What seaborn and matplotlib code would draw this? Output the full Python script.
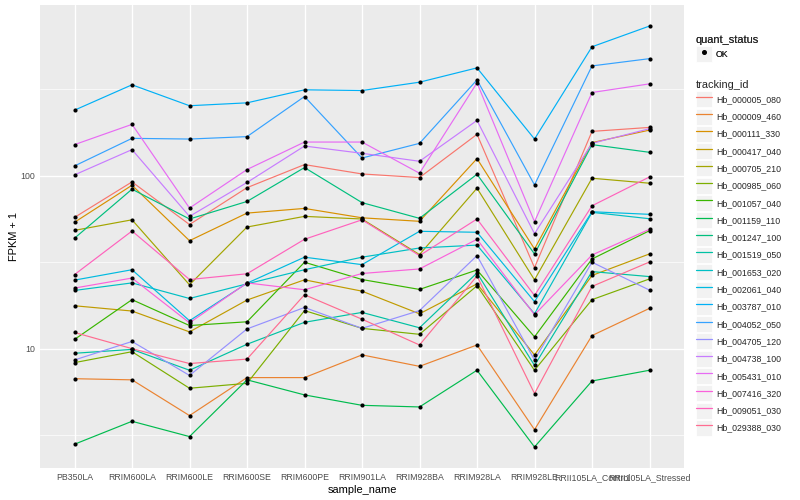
import numpy as np
import pandas as pd
import matplotlib
matplotlib.use("Agg")
import matplotlib.pyplot as plt
import seaborn as sns
from matplotlib.lines import Line2D
from matplotlib.patches import Rectangle
from matplotlib.legend_handler import HandlerTuple
from matplotlib.ticker import FixedLocator, NullFormatter, FixedFormatter

samples = ["PB350LA", "RRIM600LA", "RRIM600LE", "RRIM600SE", "RRIM600PE",
           "RRIM901LA", "RRIM928BA", "RRIM928LA", "RRIM928LE",
           "RRII105LA_Control", "RRII105LA_Stressed"]

tracking_ids = ["Hb_000005_080", "Hb_000009_460", "Hb_000111_330", "Hb_000417_040",
                "Hb_000705_210", "Hb_000985_060", "Hb_001057_040", "Hb_001159_110",
                "Hb_001247_100", "Hb_001519_050", "Hb_001653_020", "Hb_002061_040",
                "Hb_003787_010", "Hb_004052_050", "Hb_004705_120", "Hb_004738_100",
                "Hb_005431_010", "Hb_007416_320", "Hb_009051_030", "Hb_029388_030"]

colors = ["#F8766D", "#EA8331", "#D89000", "#C09B00", "#A3A500", "#7CAE00", "#39B600",
          "#00BB4E", "#00BF7D", "#00C1A3", "#00BFC4", "#00BAE0", "#00B0F6", "#35A2FF",
          "#9590FF", "#C77CFF", "#E76BF3", "#FA62DB", "#FF62BC", "#FF6C91"]

# FPKM + 1 values per sample (order of `samples`)
Hb_000005_080 = [57.4, 92.1, 52.2, 85.3, 116.0, 102.4, 97.6, 173.5, 29.4, 180.5, 190.3]
Hb_000009_460 = [6.7, 6.6, 4.1, 6.8, 6.8, 9.2, 7.9, 10.5, 3.4, 11.9, 17.1]
Hb_000111_330 = [53.8, 88.1, 42.1, 60.8, 64.7, 57.1, 54.5, 125.6, 37.7, 155.4, 183.6]
Hb_000417_040 = [17.7, 16.5, 12.5, 19.1, 25.0, 21.5, 15.9, 23.7, 9.2, 26.5, 35.3]
Hb_000705_210 = [48.3, 55.6, 23.4, 50.5, 58.2, 56.2, 35.0, 84.7, 25.0, 96.7, 90.5]
Hb_000985_060 = [8.3, 9.6, 5.9, 6.3, 16.6, 13.1, 12.1, 23.1, 7.5, 19.2, 25.3]
Hb_001057_040 = [11.3, 19.2, 13.6, 14.3, 31.6, 25.1, 22.0, 28.5, 11.7, 33.0, 48.1]
Hb_001159_110 = [2.8, 3.8, 3.1, 6.6, 5.4, 4.7, 4.6, 7.5, 2.7, 6.5, 7.5]
Hb_001247_100 = [43.5, 83.6, 56.2, 71.0, 111.5, 69.9, 56.7, 102.0, 35.3, 151.3, 136.6]
Hb_001519_050 = [9.4, 9.9, 7.5, 10.6, 14.2, 16.2, 13.2, 27.4, 8.0, 27.9, 26.1]
Hb_001653_020 = [21.7, 24.0, 19.5, 23.7, 28.6, 33.8, 38.2, 39.7, 15.9, 61.4, 56.4]
Hb_002061_040 = [24.9, 28.6, 14.5, 23.9, 33.8, 30.6, 47.7, 47.1, 18.7, 61.9, 59.8]
Hb_003787_010 = [239.4, 335.6, 254.0, 264.0, 314.0, 311.0, 347.5, 420.5, 163.0, 557.0, 734.0]
Hb_004052_050 = [113.9, 164.5, 163.0, 168.3, 287.2, 126.6, 153.9, 358.4, 88.5, 431.7, 475.5]
Hb_004705_120 = [8.6, 11.0, 7.0, 13.0, 17.3, 13.1, 16.6, 34.5, 8.6, 31.6, 21.8]
Hb_004738_100 = [101.1, 141.6, 58.2, 91.4, 148.5, 134.8, 121.2, 208.9, 46.2, 153.9, 187.1]
Hb_005431_010 = [151.3, 198.2, 65.0, 108.6, 156.6, 156.6, 103.4, 344.4, 54.2, 302.9, 339.9]
Hb_007416_320 = [22.4, 25.6, 14.1, 24.0, 21.9, 27.2, 28.9, 42.9, 15.7, 34.8, 49.0]
Hb_009051_030 = [26.8, 47.9, 25.1, 27.1, 42.9, 55.6, 34.5, 56.2, 20.3, 67.0, 98.4]
Hb_029388_030 = [12.4, 10.0, 8.2, 8.7, 20.5, 14.8, 10.5, 26.3, 5.5, 22.9, 31.7]

series = {
    "Hb_000005_080": Hb_000005_080, "Hb_000009_460": Hb_000009_460,
    "Hb_000111_330": Hb_000111_330, "Hb_000417_040": Hb_000417_040,
    "Hb_000705_210": Hb_000705_210, "Hb_000985_060": Hb_000985_060,
    "Hb_001057_040": Hb_001057_040, "Hb_001159_110": Hb_001159_110,
    "Hb_001247_100": Hb_001247_100, "Hb_001519_050": Hb_001519_050,
    "Hb_001653_020": Hb_001653_020, "Hb_002061_040": Hb_002061_040,
    "Hb_003787_010": Hb_003787_010, "Hb_004052_050": Hb_004052_050,
    "Hb_004705_120": Hb_004705_120, "Hb_004738_100": Hb_004738_100,
    "Hb_005431_010": Hb_005431_010, "Hb_007416_320": Hb_007416_320,
    "Hb_009051_030": Hb_009051_030, "Hb_029388_030": Hb_029388_030,
}

rows = []
for tid in tracking_ids:
    for s, v in zip(samples, series[tid]):
        rows.append({"tracking_id": tid, "sample_name": s, "fpkm1": v, "quant_status": "OK"})
df = pd.DataFrame(rows)

sns.set_theme(style="darkgrid")
plt.rcParams["font.family"] = ["Liberation Sans", "DejaVu Sans"]

fig = plt.figure(figsize=(8, 5), dpi=100)
ax = fig.add_axes([40 / 800, 1 - 468 / 500, (684 - 40) / 800, (468 - 5) / 500])
ax.set_facecolor("#EBEBEB")

sns.lineplot(data=df, x="sample_name", y="fpkm1", hue="tracking_id",
             hue_order=tracking_ids, palette=colors, sort=False,
             linewidth=0.85, legend=False, ax=ax, zorder=2)
sns.scatterplot(data=df, x="sample_name", y="fpkm1", color="black", s=9,
                linewidth=0, legend=False, ax=ax, zorder=3)

ax.set_yscale("log")
lo = np.log10(df["fpkm1"].min())
hi = np.log10(df["fpkm1"].max())
pad = 0.05 * (hi - lo)
ax.set_ylim(10 ** (lo - pad), 10 ** (hi + pad))
ax.set_xlim(-0.6, len(samples) - 1 + 0.6)

ax.yaxis.set_major_locator(FixedLocator([10, 100]))
ax.yaxis.set_major_formatter(FixedFormatter(["10", "100"]))
ax.yaxis.set_minor_locator(FixedLocator([10 ** 0.5, 10 ** 1.5, 10 ** 2.5]))
ax.yaxis.set_minor_formatter(NullFormatter())

ax.grid(which="major", color="white", linewidth=1.0)
ax.grid(which="minor", axis="y", color="white", linewidth=0.5)
ax.set_axisbelow(True)
for sp in ax.spines.values():
    sp.set_visible(False)

ax.tick_params(axis="both", which="major", length=2.2, width=0.6, color="#333333",
               labelsize=6.3, labelcolor="#4D4D4D", pad=1.5)
ax.tick_params(axis="y", which="minor", length=0)

ax.set_xlabel("sample_name", fontsize=7.9, color="black", labelpad=2)
ax.set_ylabel("FPKM + 1", fontsize=7.9, color="black", labelpad=1)

# legends (ggplot-like)
def keybg():
    return Rectangle((0, 0), 1, 1, facecolor="#F2F2F2", edgecolor="white", linewidth=0.6)

common = dict(frameon=False, loc="upper left", fontsize=6.3, title_fontsize=7.9,
              handlelength=1.83, handleheight=2.44, labelspacing=0.146,
              handletextpad=0.46, borderpad=0, borderaxespad=0,
              alignment="left", handler_map={tuple: HandlerTuple(ndivide=1, pad=0)})

h_ok = [(keybg(), Line2D([], [], marker="o", color="black", linestyle="", markersize=2.6))]
leg1 = fig.legend(h_ok, ["OK"], title="quant_status",
                  bbox_to_anchor=(696 / 800, 1 - 35 / 500), **common)

h_ids = [(keybg(), Line2D([], [], color=c, linewidth=0.9)) for c in colors]
leg2 = fig.legend(h_ids, tracking_ids, title="tracking_id",
                  bbox_to_anchor=(696 / 800, 1 - 80 / 500), **common)
fig.add_artist(leg1)

fig.savefig("out.png", dpi=100)
